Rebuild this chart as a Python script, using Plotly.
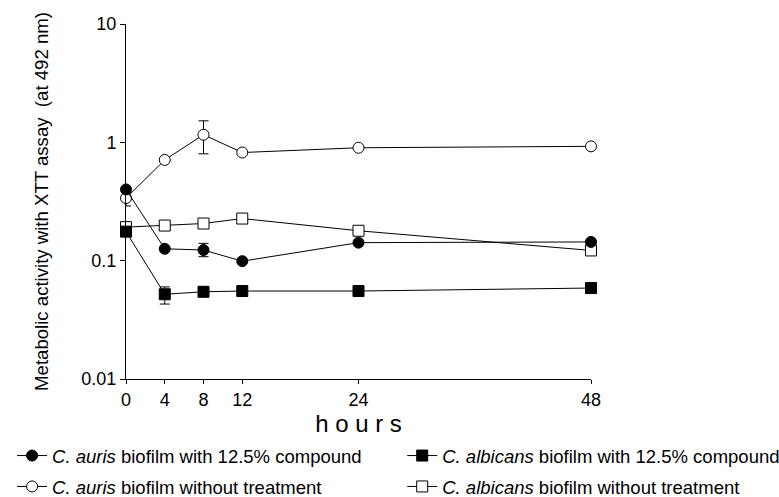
import plotly.graph_objects as go

hours = [0, 4, 8, 12, 24, 48]
x_ticks = [0, 4, 8, 12, 24, 48]
y_tickvals = [0.01, 0.1, 1, 10]
y_ticktext = ["0.01", "0.1", "1", "10"]

auris_compound = [0.40, 0.126, 0.123, 0.099, 0.142, 0.144]
auris_compound_err_up = [0, 0, 0.017, 0, 0, 0]
auris_compound_err_dn = [0, 0, 0.015, 0, 0, 0]

albicans_compound = [0.176, 0.052, 0.0546, 0.0554, 0.0554, 0.0587]
albicans_compound_err_up = [0, 0.008, 0, 0, 0, 0]
albicans_compound_err_dn = [0, 0.009, 0, 0, 0, 0]

auris_none = [0.338, 0.71, 1.16, 0.82, 0.90, 0.925]
auris_none_err_up = [0.05, 0, 0.36, 0, 0, 0]
auris_none_err_dn = [0.048, 0, 0.36, 0, 0, 0]

albicans_none = [0.192, 0.198, 0.206, 0.227, 0.179, 0.122]

names = [
    "<i>C. auris</i> biofilm with 12.5% compound",
    "<i>C. albicans</i> biofilm with 12.5% compound",
    "<i>C. auris</i> biofilm without treatment",
    "<i>C. albicans</i> biofilm without treatment",
]

FONT = "Liberation Sans, Arial, sans-serif"
fig = go.Figure()

def add(y, name, symbol, filled, legend, up=None, dn=None, size=11):
    err = None
    if up is not None:
        err = dict(type="data", symmetric=False, array=up, arrayminus=dn,
                   color="black", thickness=1, width=5)
    fig.add_trace(go.Scatter(
        x=hours, y=y, name=name, mode="lines+markers",
        line=dict(color="black", width=1),
        marker=dict(symbol=symbol, size=size,
                    color="black" if filled else "white",
                    line=dict(color="black", width=1)),
        error_y=err, cliponaxis=False, legend=legend,
    ))

add(albicans_none, names[3], "square", False, "legend4")
add(auris_none, names[2], "circle", False, "legend3", auris_none_err_up, auris_none_err_dn)
add(albicans_compound, names[1], "square", True, "legend2", albicans_compound_err_up, albicans_compound_err_dn)
add(auris_compound, names[0], "circle", True, "legend", auris_compound_err_up, auris_compound_err_dn)

def leg(x, y):
    return dict(orientation="v", x=x, xanchor="left", y=y, yanchor="middle",
                font=dict(family=FONT, size=18.5), bgcolor="rgba(0,0,0,0)")

fig.update_layout(
    width=779, height=497,
    margin=dict(l=126, r=188, t=24, b=118, autoexpand=False),
    paper_bgcolor="white", plot_bgcolor="white",
    font=dict(family=FONT, size=18, color="black"),
    showlegend=True,
    legend=leg(-0.245, -0.217),
    legend2=leg(0.594, -0.217),
    legend3=leg(-0.245, -0.304),
    legend4=leg(0.594, -0.304),
)
fig.update_xaxes(
    range=[0, 48], tickvals=x_ticks, ticks="outside", ticklen=4, tickcolor="black",
    showline=True, linecolor="black", linewidth=1, showgrid=False, zeroline=False,
    tickfont=dict(size=18), automargin=False,
    title=dict(text="h o u r s", font=dict(size=24), standoff=2),
)
fig.update_yaxes(
    type="log", range=[-2, 1], tickvals=y_tickvals, ticktext=y_ticktext,
    ticks="outside", ticklen=5, tickcolor="black",
    showline=True, linecolor="black", linewidth=1, showgrid=False, zeroline=False,
    tickfont=dict(size=18), automargin=False,
    title=dict(text="Metabolic activity with XTT assay  (at 492 nm)", font=dict(size=18.6), standoff=27),
)

fig.write_html("out.html", config={"displayModeBar": False},
               post_script="document.body.style.margin='0';document.body.style.overflow='hidden';")
